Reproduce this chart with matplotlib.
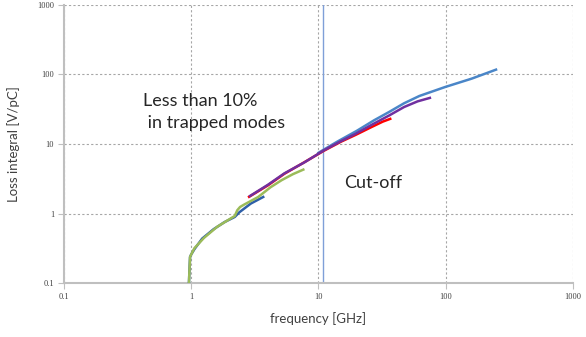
import matplotlib
matplotlib.use("Agg")
import matplotlib.pyplot as plt

# Data (GHz, V/pC)
green_f = [0.96, 0.97, 0.98, 1.0, 1.06, 1.26, 1.6, 2.2, 2.3, 2.42, 2.6, 3.36, 4.2, 5.13, 6.3, 7.6]
green_v = [0.1, 0.16, 0.24, 0.26, 0.32, 0.45, 0.65, 0.93, 1.12, 1.25, 1.35, 1.74, 2.4, 3.03, 3.7, 4.3]

dblue_f = [0.96, 0.97, 0.98, 1.0, 1.06, 1.22, 1.5, 1.83, 2.2, 2.39, 2.94, 3.68]
dblue_v = [0.1, 0.16, 0.24, 0.26, 0.31, 0.44, 0.6, 0.76, 0.9, 1.05, 1.4, 1.74]

purple_f = [2.9, 4.0, 5.4, 7.8, 11, 15, 19.5, 27, 36, 47, 60, 75]
purple_v = [1.8, 2.6, 3.8, 5.5, 8.1, 11, 14, 19.5, 25.8, 34, 41, 46]

red_f = [2.85, 4.0, 5.4, 7.5, 11, 15, 19.5, 26, 32, 36.6]
red_v = [1.75, 2.55, 3.75, 5.3, 8.0, 10.8, 13.5, 17.5, 21, 23]

lblue_f = [10, 14, 20, 27.4, 36, 47, 62, 99, 160, 248]
lblue_v = [7.5, 10.8, 15.5, 22, 29, 38.5, 49, 66, 87, 117]

cutoff_f = 10.8

x_ticks = [0.1, 1, 10, 100, 1000]
x_labels = ["0.1", "1", "10", "100", "1000"]
y_ticks = [0.1, 1, 10, 100, 1000]
y_labels = ["0.1", "1", "10", "100", "1000"]

fig = plt.figure(figsize=(5.86, 3.37), dpi=100)
ax = fig.add_axes([0.109, 0.159, 0.869, 0.827])

ax.set_xscale("log")
ax.set_yscale("log")
ax.set_xlim(0.1, 1000)
ax.set_ylim(0.1, 1000)

ax.plot(dblue_f, dblue_v, color="#2E5FA8", lw=1.8, zorder=3)
ax.plot(green_f, green_v, color="#9BBB59", lw=1.8, zorder=4)
ax.plot(lblue_f, lblue_v, color="#4A86C8", lw=1.8, zorder=3)
ax.plot(red_f, red_v, color="#FF0000", lw=1.8, zorder=4)
ax.plot(purple_f, purple_v, color="#7030A0", lw=1.8, zorder=5)

ax.axvline(cutoff_f, color="#7F9FD8", lw=1.0, zorder=2)

ax.set_xticks(x_ticks)
ax.set_xticklabels(x_labels)
ax.set_yticks(y_ticks)
ax.set_yticklabels(y_labels)
ax.minorticks_off()
ax.tick_params(axis="both", which="major", length=4, width=0.8, color="#BFBFBF",
               labelsize=6, labelcolor="#404040", pad=3)
for lab in ax.get_xticklabels() + ax.get_yticklabels():
    lab.set_family("Liberation Serif")

ax.grid(True, which="major", color="#A6A6A6", linestyle=(0, (2, 2)), lw=0.8)
for s in ["top", "right"]:
    ax.spines[s].set_visible(False)
for s in ["left", "bottom"]:
    ax.spines[s].set_color("#BFBFBF")
    ax.spines[s].set_linewidth(1.5)

ax.set_xlabel("frequency [GHz]", family="Lato", fontsize=9.5, color="#404040", labelpad=8)
ax.set_ylabel("Loss integral [V/pC]", family="Lato", fontsize=9.5, color="#404040", labelpad=12)

ax.text(0.42, 29, "Less than 10%\n in trapped modes", family="Lato", fontsize=13,
        color="#262626", va="center", ha="left", linespacing=1.45)
ax.text(15.9, 2.75, "Cut-off", family="Lato", fontsize=13, color="#262626", va="center", ha="left")

fig.savefig("out.png", dpi=100)
